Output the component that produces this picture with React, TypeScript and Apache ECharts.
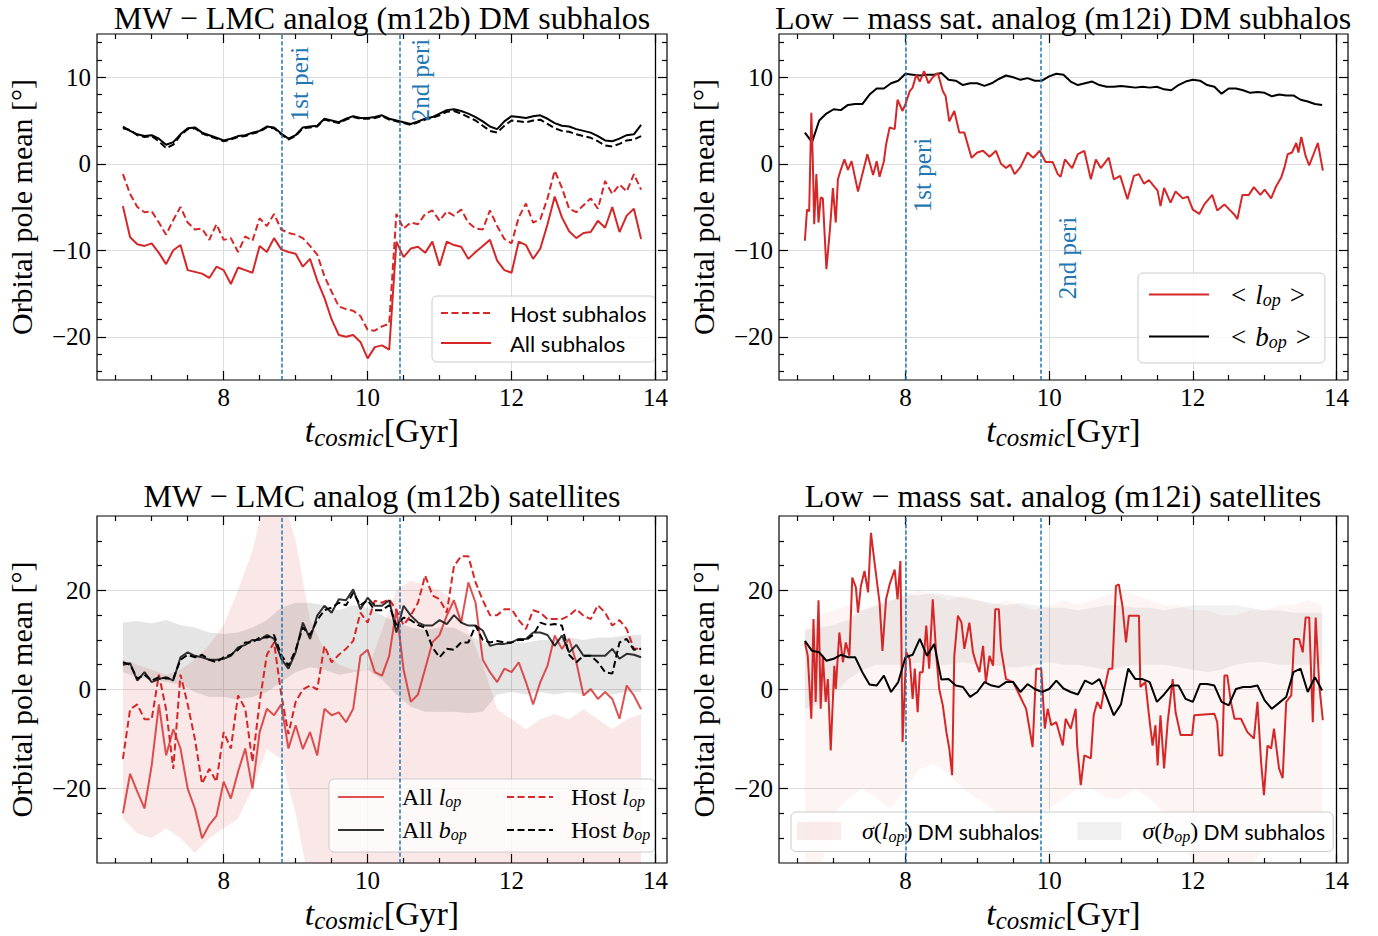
import React, { useEffect, useRef } from 'react';
import * as echarts from 'echarts';

// ---------------- time grids ----------------
const T = [6.6, 6.7, 6.8, 6.9, 7.0, 7.1, 7.2, 7.3, 7.4, 7.5,
  7.6, 7.7, 7.8, 7.9, 8.0, 8.1, 8.2, 8.3, 8.4, 8.5,
  8.6, 8.7, 8.8, 8.9, 9.0, 9.1, 9.2, 9.3, 9.4, 9.5,
  9.6, 9.7, 9.8, 9.9, 10.0, 10.1, 10.2, 10.3, 10.4, 10.5,
  10.6, 10.7, 10.8, 10.9, 11.0, 11.1, 11.2, 11.3, 11.4, 11.5,
  11.6, 11.7, 11.8, 11.9, 12.0, 12.1, 12.2, 12.3, 12.4, 12.5,
  12.6, 12.7, 12.8, 12.9, 13.0, 13.1, 13.2, 13.3, 13.4, 13.5,
  13.6, 13.7, 13.8];
const TB = [6.6, 6.8, 7.0, 7.2, 7.4, 7.6, 7.8, 8.0, 8.2, 8.4,
  8.6, 8.8, 9.0, 9.2, 9.4, 9.6, 9.8, 10.0, 10.2, 10.4,
  10.6, 10.8, 11.0, 11.2, 11.4, 11.6, 11.8, 12.0, 12.2, 12.4,
  12.6, 12.8, 13.0, 13.2, 13.4, 13.6, 13.8];

// ---------------- tick labels ----------------
const X_MAJOR = [8, 10, 12, 14];
const X_MINOR = [6.5, 7, 7.5, 8.5, 9, 9.5, 10.5, 11, 11.5, 12.5, 13, 13.5];
const Y_MAJ_TOP = [-20, -10, 0, 10];
const Y_MIN_TOP = [-24, -22, -18, -16, -14, -12, -8, -6, -4, -2, 2, 4, 6, 8, 12, 14];
const Y_MAJ_BOT = [-20, 0, 20];
const Y_MIN_BOT = [-30, -25, -15, -10, -5, 5, 10, 15, 25, 30];

// pericentre times
const PERI_M12B = [8.81, 10.44];
const PERI_M12I = [8.0, 9.88];

// ---------------- top-left: m12b DM subhalos ----------------
const TL_ALL_B = [4.3, 3.8, 3.4, 3.2, 3.3, 2.9, 2.2, 2.5, 3.4, 4.1,
  4.2, 3.6, 3.3, 3.0, 2.7, 2.9, 3.2, 3.3, 3.6, 3.8,
  4.3, 4.2, 3.5, 2.9, 3.3, 4.2, 4.3, 4.4, 5.2, 5.0,
  4.8, 5.2, 5.5, 5.3, 5.3, 5.4, 5.6, 5.2, 5.0, 4.8,
  4.6, 4.9, 5.2, 5.4, 5.8, 6.2, 6.3, 6.1, 5.8, 5.4,
  4.9, 4.3, 4.0, 4.9, 5.5, 5.4, 5.3, 5.5, 5.6, 5.2,
  4.7, 4.4, 4.3, 4.0, 3.8, 3.6, 3.2, 2.7, 2.6, 2.9,
  3.3, 3.4, 4.5];
const TL_HOST_B = [4.1, 3.9, 3.3, 3.1, 3.2, 2.6, 1.8, 2.2, 3.3, 4.0,
  4.1, 3.5, 3.2, 2.9, 2.6, 2.8, 3.1, 3.2, 3.5, 3.7,
  4.2, 4.1, 3.4, 2.8, 3.2, 4.1, 4.2, 4.3, 5.1, 4.9,
  4.7, 5.1, 5.4, 5.2, 5.2, 5.3, 5.5, 5.1, 4.9, 4.7,
  4.5, 4.8, 5.1, 5.3, 5.6, 6.0, 6.1, 5.8, 5.4, 5.0,
  4.4, 3.8, 3.6, 4.4, 5.0, 4.9, 4.8, 5.0, 5.1, 4.6,
  4.1, 3.8, 3.7, 3.4, 3.2, 3.0, 2.6, 2.1, 2.0, 2.3,
  2.7, 2.8, 3.2];
const TL_HOST_L = [-1.2, -3.5, -5.0, -5.6, -5.5, -6.8, -8.2, -6.5, -5.0, -6.8,
  -7.6, -7.5, -8.8, -7.0, -8.8, -8.6, -10.2, -8.4, -8.9, -6.3,
  -7.2, -5.8, -7.6, -8.0, -8.2, -8.6, -9.5, -10.5, -13.0, -14.8,
  -16.5, -16.8, -17.0, -17.6, -19.2, -19.3, -18.8, -18.5, -5.8, -7.5,
  -6.8, -7.0, -5.8, -5.4, -6.6, -5.5, -6.0, -5.3, -6.8, -7.5,
  -7.6, -5.4, -7.2, -8.7, -9.2, -6.2, -4.6, -6.8, -6.4, -4.0,
  -0.8, -2.8, -5.2, -5.6, -4.8, -4.0, -5.2, -2.0, -3.5, -2.4,
  -3.2, -1.2, -3.0];
const TL_ALL_L = [-4.9, -8.5, -9.3, -9.5, -9.2, -10.3, -11.6, -10.0, -9.4, -12.3,
  -12.5, -12.7, -13.2, -11.9, -12.3, -13.9, -12.0, -12.3, -12.6, -9.5,
  -10.2, -8.6, -9.9, -10.2, -10.4, -11.9, -11.0, -13.5, -15.5, -18.0,
  -19.8, -20.0, -19.8, -20.6, -22.5, -21.2, -21.0, -21.5, -9.0, -10.8,
  -9.8, -9.6, -10.3, -9.0, -11.8, -9.0, -9.4, -9.6, -11.0, -10.2,
  -9.5, -8.8, -11.2, -12.3, -12.6, -9.0, -9.4, -11.0, -9.8, -7.0,
  -3.8, -6.2, -7.8, -8.6, -8.0, -7.9, -6.6, -7.4, -5.0, -7.9,
  -6.0, -5.2, -8.7];

// ---------------- top-right: m12i DM subhalos ----------------
const TR_B = [3.6, 2.5, 5.0, 5.8, 6.3, 6.2, 6.8, 6.9, 6.9, 8.0,
  8.7, 8.7, 9.3, 9.6, 10.4, 10.3, 10.2, 10.3, 10.3, 10.5,
  9.7, 9.6, 9.1, 9.3, 9.3, 9.0, 9.3, 9.8, 10.2, 10.0,
  9.7, 9.9, 9.6, 9.6, 10.1, 10.4, 10.3, 9.5, 9.1, 9.3,
  9.5, 9.1, 8.9, 8.9, 9.0, 8.9, 8.8, 8.9, 8.8, 8.9,
  8.6, 8.5, 9.1, 9.5, 9.7, 9.6, 9.1, 8.9, 8.1, 8.7,
  8.7, 8.5, 8.2, 8.3, 8.2, 7.8, 8.0, 7.9, 7.9, 7.4,
  7.2, 6.9, 6.8];
const TR_L_T = [6.60, 6.63, 6.66, 6.69, 6.71, 6.73, 6.76, 6.79, 6.82, 6.85,
  6.90, 6.95, 6.99, 7.03, 7.06, 7.10, 7.15, 7.20, 7.25, 7.34,
  7.40, 7.47, 7.55, 7.60, 7.64, 7.70, 7.73, 7.78, 7.85, 7.89,
  7.96, 8.00, 8.06, 8.10, 8.15, 8.20, 8.26, 8.32, 8.38, 8.45,
  8.52, 8.56, 8.61, 8.68, 8.75, 8.82, 8.92, 9.00, 9.08, 9.17,
  9.26, 9.33, 9.40, 9.46, 9.52, 9.60, 9.70, 9.78, 9.87, 9.95,
  10.05, 10.12, 10.16, 10.22, 10.32, 10.40, 10.49, 10.58, 10.65, 10.72,
  10.83, 10.90, 10.99, 11.09, 11.18, 11.25, 11.32, 11.39, 11.51, 11.55,
  11.60, 11.69, 11.76, 11.86, 11.93, 12.00, 12.09, 12.16, 12.27, 12.34,
  12.44, 12.51, 12.58, 12.62, 12.69, 12.78, 12.85, 12.94, 13.00, 13.09,
  13.16, 13.23, 13.28, 13.32, 13.38, 13.44, 13.47, 13.51, 13.57, 13.62,
  13.68, 13.74, 13.78, 13.81];
const TR_L = [-8.9, -5.3, -5.5, 5.9, 0.5, -7.0, -1.2, -6.8, -3.9, -4.0,
  -12.2, -7.5, -2.8, -6.8, -1.8, -0.7, 0.5, -0.7, 0.3, -3.2,
  -1.2, 1.1, -1.3, 0.3, -1.5, 0.3, 2.2, 4.2, 4.0, 7.4,
  6.1, 6.9, 8.4, 8.8, 10.3, 9.5, 10.7, 9.3, 10.0, 10.5,
  8.4, 7.8, 4.9, 6.1, 3.6, 3.6, 0.7, 1.3, 1.5, 0.8,
  1.5, 0.0, -0.5, -0.1, -1.2, -0.4, 1.3, 0.7, 1.5, 0.2,
  0.2, -1.2, -1.5, 0.5, -0.5, 1.1, 1.5, -1.8, 0.5, -0.5,
  0.7, -1.8, -1.4, -4.1, -1.4, -1.2, -2.3, -1.9, -3.1, -4.9,
  -2.8, -4.5, -3.2, -4.0, -3.8, -5.3, -5.8, -4.7, -3.6, -5.4,
  -4.7, -5.3, -5.9, -6.4, -3.6, -3.6, -2.7, -3.6, -3.0, -4.0,
  -2.6, -1.6, -0.3, 1.1, 1.3, 2.4, 1.3, 3.1, 0.9, -0.2,
  1.1, 2.4, 0.6, -0.8];

// ---------------- bottom-left: m12b satellites ----------------
const BL_ALL_L = [-25.0, -17.0, -20.6, -24.0, -15.3, -3.0, -13.3, -8.0, -11.9, -20.0,
  -24.0, -30.0, -27.3, -25.5, -18.6, -22.0, -16.6, -11.9, -20.0, -8.6,
  -3.9, -5.2, -3.0, -11.9, -7.2, -12.0, -8.6, -13.3, -3.9, -5.2,
  -4.6, -6.6, -3.9, 6.8, 8.0, 3.5, 2.8, 6.8, 16.2, 4.0,
  -2.5, -1.0, 4.2, 9.5, 11.0, 14.9, 18.0, 13.5, 21.6, 17.5,
  6.0, 3.5, 1.5, 4.2, 3.5, 5.5, 1.5, -3.0, 1.5, 4.8,
  10.9, 8.2, 10.2, 5.5, -1.2, 0.1, -1.9, -0.5, -1.9, -5.9,
  0.8, -1.2, -4.0];
const BL_HOST_L = [-14.0, -4.0, -3.0, -6.0, -6.0, 3.0, -4.0, -16.0, 3.0, -3.0,
  -10.0, -19.0, -16.0, -18.6, -8.6, -11.9, -1.2, -3.9, -14.6, -2.5,
  7.0, 9.5, -1.0, -9.0, -2.5, 0.0, 0.8, 0.0, 8.8, 5.5,
  7.0, 8.2, 9.8, 15.5, 13.5, 17.9, 17.5, 18.2, 16.0, 13.0,
  15.0, 17.5, 23.0, 19.0, 18.2, 15.5, 24.9, 26.9, 26.9, 21.6,
  18.0, 15.0, 15.0, 16.2, 16.2, 14.0, 12.2, 16.0, 15.5, 14.2,
  14.2, 14.2, 14.9, 16.2, 14.9, 14.2, 17.0, 15.5, 12.9, 14.0,
  12.2, 8.2, 8.2];
const BL_ALL_B = [5.0, 5.3, 1.8, 3.5, 1.5, 2.1, 2.5, 1.8, 6.5, 7.5,
  6.8, 6.5, 6.0, 6.0, 6.2, 6.8, 8.5, 9.0, 10.0, 10.0,
  11.0, 10.2, 6.2, 4.2, 7.5, 13.5, 10.2, 14.9, 16.9, 15.5,
  18.2, 18.0, 20.2, 16.2, 18.5, 16.9, 16.9, 18.0, 11.5, 16.9,
  14.9, 13.5, 12.9, 12.9, 14.0, 13.2, 15.0, 13.5, 12.9, 12.9,
  11.9, 8.8, 9.2, 9.2, 9.5, 10.2, 10.2, 11.5, 11.5, 11.0,
  8.8, 10.9, 7.5, 9.0, 6.8, 6.8, 6.8, 6.8, 8.2, 6.2,
  7.2, 7.0, 6.5];
const BL_HOST_B = [5.5, 5.0, 2.2, 3.0, 1.8, 2.5, 2.2, 2.2, 6.0, 7.0,
  6.5, 7.0, 6.0, 5.5, 6.5, 7.0, 8.0, 9.5, 9.5, 10.5,
  10.5, 11.0, 7.0, 4.8, 8.0, 12.5, 11.0, 14.0, 16.0, 16.5,
  17.5, 17.0, 19.5, 17.0, 18.0, 16.0, 16.0, 17.0, 13.0, 14.5,
  14.0, 13.0, 12.5, 8.5, 6.5, 8.2, 8.0, 9.5, 9.5, 12.9,
  10.0, 9.5, 9.8, 9.5, 9.5, 10.0, 10.0, 11.0, 13.5, 13.0,
  13.2, 12.9, 7.0, 5.5, 6.8, 6.8, 5.5, 3.5, 3.2, 9.5,
  10.2, 8.0, 8.2];
const BL_SIG_L_HI = [6, 5, 4, 3, 4, 6, 9, 13, 20, 28,
  40, 40, 30, 14, 8, 5, 4, 4, 12, 20,
  22, 21, 20, 18, 12, 5, -4, -6, -8, -6,
  -5, -6, -4, -6, -8, -6, -5];
const BL_SIG_L_LO = [-26, -29, -30, -28, -30, -33, -30, -28, -26, -20,
  -12, -14, -25, -40, -40, -40, -40, -40, -40, -40,
  -40, -40, -40, -40, -40, -40, -40, -40, -40, -40,
  -40, -40, -40, -40, -40, -40, -40];
const BL_SIG_B_HI = [13.5, 13.8, 13.3, 14.0, 13.0, 12.5, 11.5, 11.2, 11.5, 12.5,
  14.0, 16.5, 17.5, 17.5, 17.0, 16.0, 17.0, 16.5, 15.0, 13.5,
  12.5, 12.0, 12.5, 12.5, 11.0, 9.5, 9.0, 9.5, 9.5, 10.0,
  10.0, 10.5, 10.0, 10.5, 10.5, 11.0, 11.0];
const BL_SIG_B_LO = [3.5, 2.5, 2.0, 1.5, 1.0, -0.5, -1.5, -1.5, -2.0, -1.5,
  -0.5, 1.5, 3.5, 4.5, 4.0, 3.0, 3.5, 4.0, 2.0, -1.0,
  -3.5, -4.5, -4.5, -4.5, -4.8, -4.5, -1.0, -0.5, -1.0, -0.5,
  -1.0, -0.5, -1.0, 0.0, -1.0, -0.5, -0.5];

// ---------------- bottom-right: m12i satellites ----------------
const BR_B = [9.8, 7.8, 7.5, 5.8, 6.2, 7.0, 6.5, 6.5, 3.5, 1.0,
  0.8, 2.8, -0.5, 1.5, 6.5, 7.0, 10.2, 6.8, 9.2, 2.0,
  2.1, 0.8, 0.5, -1.5, -0.5, 1.5, 0.8, 0.5, 1.5, 1.5,
  -0.5, 1.1, 0.1, -0.5, 0.1, 1.8, 0.2, -0.5, -1.0, 1.8,
  1.1, 2.1, -1.5, -5.2, -3.0, 4.2, 2.1, 2.1, 1.5, -2.5,
  -1.0, 0.8, 0.8, -1.9, -2.5, 1.1, 1.1, 0.8, -2.5, -3.2,
  0.1, 0.5, 0.5, 0.8, -2.2, -3.9, -2.7, -1.5, 3.5, 4.2,
  -0.5, 2.5, -0.2];
const BR_L_T = [6.60, 6.64, 6.69, 6.72, 6.75, 6.79, 6.82, 6.85, 6.89, 6.92,
  6.96, 7.01, 7.03, 7.08, 7.13, 7.17, 7.22, 7.26, 7.31, 7.34,
  7.38, 7.43, 7.48, 7.52, 7.57, 7.64, 7.68, 7.73, 7.78, 7.85,
  7.89, 7.93, 7.96, 8.01, 8.06, 8.10, 8.13, 8.17, 8.20, 8.24,
  8.29, 8.33, 8.38, 8.43, 8.47, 8.52, 8.57, 8.61, 8.65, 8.68,
  8.73, 8.78, 8.82, 8.89, 8.94, 8.98, 9.03, 9.08, 9.12, 9.17,
  9.22, 9.25, 9.30, 9.33, 9.40, 9.50, 9.59, 9.68, 9.77, 9.82,
  9.89, 9.94, 9.98, 10.03, 10.10, 10.19, 10.23, 10.30, 10.37, 10.39,
  10.44, 10.49, 10.58, 10.62, 10.67, 10.72, 10.76, 10.83, 10.88, 10.93,
  10.97, 11.02, 11.07, 11.11, 11.25, 11.27, 11.34, 11.39, 11.44, 11.48,
  11.51, 11.55, 11.60, 11.65, 11.72, 11.76, 11.83, 11.99, 12.02, 12.30,
  12.34, 12.37, 12.41, 12.44, 12.48, 12.53, 12.58, 12.67, 12.76, 12.85,
  12.90, 12.95, 12.99, 13.04, 13.09, 13.13, 13.20, 13.25, 13.30, 13.37,
  13.41, 13.48, 13.53, 13.57, 13.62, 13.67, 13.71, 13.76, 13.81];
const BR_L = [9.5, 6.8, -5.9, 14.2, -2.5, 18.0, -3.9, 6.8, -2.5, 2.1,
  -12.3, 4.8, 0.1, 11.5, 5.5, 9.5, 6.8, 22.6, 20.6, 15.5,
  20.9, 23.9, 19.6, 31.6, 25.6, 17.5, 7.8, 18.2, 21.2, 24.2,
  18.2, 25.9, -10.6, 7.5, 6.1, -1.9, 4.2, -4.6, 3.5, 3.5,
  12.9, 4.2, 18.2, 6.8, 0.1, -3.2, -8.6, -11.9, -17.3, 6.8,
  14.9, 13.5, 8.2, 13.5, 7.5, 5.5, 3.5, 8.8, 1.5, 6.8,
  4.8, 16.2, 16.2, 8.2, 2.1, 1.5, -1.2, -3.9, -11.6, 4.2,
  4.2, -7.9, -3.9, -7.2, -6.6, -11.3, -5.9, -7.9, -3.9, -11.3,
  -19.3, -13.3, -13.9, -5.2, -2.5, -3.9, -0.5, 4.2, 4.2, 20.9,
  21.2, 16.9, 9.5, 14.9, 14.9, 0.5, 1.5, -5.2, -11.3, -7.2,
  -15.3, -5.2, -15.9, -6.6, 2.1, -4.6, -9.2, -9.2, -5.2, -4.9,
  -6.6, -13.3, -13.3, 2.8, 2.8, -2.5, -5.9, -5.9, -8.6, -9.9,
  -2.5, -14.6, -21.3, -11.3, -11.9, -7.9, -15.9, -17.9, -2.5, -1.2,
  10.2, 10.2, 7.5, 14.5, 14.5, -6.6, 14.5, 0.8, -6.2];
const BR_SIG_L_HI = [12, 15, 16, 17, 16, 17, 18, 19, 20, 19,
  18, 19, 18, 17, 18, 17, 16, 17, 18, 17,
  18, 19, 20, 19, 18, 17, 17, 16, 16, 15,
  15, 16, 16, 17, 17, 18, 17];
const BR_SIG_L_LO = [-38, -38, -25, -22, -20, -22, -24, -20, -16, -15,
  -17, -20, -22, -24, -26, -28, -26, -24, -22, -20,
  -20, -22, -22, -20, -22, -25, -30, -35, -38, -38,
  -38, -36, -32, -28, -26, -28, -30];
const BR_SIG_B_HI = [12, 12.5, 13, 14, 16, 17, 18, 19, 19, 19.5,
  19, 18.5, 18, 17.5, 17, 17.5, 17, 16.5, 16.5, 16,
  16.5, 17, 17, 16.5, 16.5, 16, 16.5, 17, 17, 17,
  17, 16.5, 16, 16, 15.5, 15.5, 15.5];
const BR_SIG_B_LO = [-4, -3, -1, 2, 4, 5, 5, 5, 5.5, 5,
  5, 5.5, 5, 5, 4.5, 4.5, 5, 5.5, 5, 5,
  4.5, 4, 4.5, 5, 5, 5, 4.5, 4, 3.5, 4,
  5, 5.5, 5.5, 5, 5, 5, 5];

// ---------------- styling ----------------
const RED = '#d62728';
const RED_LIGHT = 'rgba(214,39,40,0.8)';
const DARK = 'rgba(0,0,0,0.8)';
const BLUE = '#1f77b4';
const PINK_BL = 'rgba(214,39,40,0.11)';
const GRAY_BL = 'rgba(0,0,0,0.10)';
const PINK_BR = 'rgba(214,39,40,0.05)';
const GRAY_BR = 'rgba(0,0,0,0.055)';
const SERIF = '"Liberation Serif", "Times New Roman", serif';
const SANS = 'Lato, "Liberation Sans", sans-serif';
const X_MIN = 6.24;
const X_MAX = 14.16;
const DASH = [7, 3.5];

const PANELS = [
  { left: 97, top: 34, width: 570, height: 346, ymin: -25, ymax: 15, yMaj: Y_MAJ_TOP, yMin: Y_MIN_TOP },
  { left: 779, top: 34, width: 569, height: 346, ymin: -25, ymax: 15, yMaj: Y_MAJ_TOP, yMin: Y_MIN_TOP },
  { left: 97, top: 516, width: 570, height: 347, ymin: -35, ymax: 35, yMaj: Y_MAJ_BOT, yMin: Y_MIN_BOT },
  { left: 779, top: 516, width: 569, height: 347, ymin: -35, ymax: 35, yMaj: Y_MAJ_BOT, yMin: Y_MIN_BOT },
];

const fmtNum = (v: number) => (v < 0 ? '\u2212' + Math.abs(v) : String(v));
const TICK_STYLE = { color: '#000', width: 1.2 };
const tick = (len: number, vals: number[]) => ({ show: true, inside: true, length: len, customValues: vals, lineStyle: TICK_STYLE });

function xAxesFor(g: number) {
  const base: any = {
    type: 'value', gridIndex: g, min: X_MIN, max: X_MAX,
    axisLine: { show: false, onZero: false },
    splitLine: { show: false },
    axisLabel: { show: false },
  };
  return [
    {
      ...base, position: 'bottom', axisTick: tick(9, X_MAJOR),
      axisLabel: { show: true, customValues: X_MAJOR, formatter: fmtNum, fontFamily: SERIF, fontSize: 25, color: '#000', margin: 5 },
      splitLine: { show: true, lineStyle: { color: '#dddddd', width: 1 } },
      name: '{it|t}{sub|cosmic}{rm|[Gyr]}', nameLocation: 'middle', nameGap: 30,
      nameTextStyle: {
        rich: {
          it: { fontFamily: SERIF, fontStyle: 'italic', fontSize: 34, lineHeight: 40, color: '#000' },
          sub: { fontFamily: SERIF, fontStyle: 'italic', fontSize: 25, lineHeight: 22, verticalAlign: 'bottom', color: '#000' },
          rm: { fontFamily: SERIF, fontSize: 34, lineHeight: 40, color: '#000' },
        },
      },
    },
    { ...base, position: 'bottom', axisTick: tick(5, X_MINOR) },
    { ...base, position: 'top', axisTick: tick(9, X_MAJOR) },
    { ...base, position: 'top', axisTick: tick(5, X_MINOR) },
  ];
}

function yAxesFor(g: number, p: any) {
  const base: any = {
    type: 'value', gridIndex: g, min: p.ymin, max: p.ymax,
    axisLine: { show: false, onZero: false },
    splitLine: { show: false },
    axisLabel: { show: false },
  };
  return [
    {
      ...base, position: 'left', axisTick: tick(9, p.yMaj),
      axisLabel: { show: true, customValues: p.yMaj, formatter: fmtNum, fontFamily: SERIF, fontSize: 25, color: '#000', margin: 6 },
      splitLine: { show: true, lineStyle: { color: '#dddddd', width: 1 } },
      name: 'Orbital pole mean [°]', nameLocation: 'middle', nameRotate: 90, nameGap: 61,
      nameTextStyle: { fontFamily: SERIF, fontSize: 30, color: '#000' },
    },
    { ...base, position: 'left', axisTick: tick(5, p.yMin) },
    { ...base, position: 'right', axisTick: tick(9, p.yMaj) },
    { ...base, position: 'right', axisTick: tick(5, p.yMin) },
  ];
}

function line(name: string, g: number, xs: number[], ys: number[], color: string, dashed = false, extra: any = {}) {
  return {
    type: 'line', name, xAxisIndex: 4 * g, yAxisIndex: 4 * g,
    data: xs.map((x, i) => [x, ys[i]]),
    symbol: 'none', showSymbol: false, silent: true, z: 2,
    lineStyle: { color, width: 2, type: dashed ? DASH : 'solid' },
    itemStyle: { color },
    emphasis: { disabled: true },
    ...extra,
  };
}

// shaded band between lo and hi, drawn as one polygon through the axis scales
function band(name: string, g: number, xs: number[], lo: number[], hi: number[], color: string) {
  return {
    type: 'custom', name, xAxisIndex: 4 * g, yAxisIndex: 4 * g, z: 1, silent: true,
    itemStyle: { color },
    data: xs.map((x, i) => [x, lo[i], hi[i]]),
    encode: { x: 0, y: [1, 2] },
    renderItem: (params: any, api: any) => {
      if (params.dataIndex !== 0) return null;
      const top = xs.map((x, i) => api.coord([x, hi[i]]));
      const bot = xs.map((x, i) => api.coord([x, lo[i]])).reverse();
      const cs = params.coordSys;
      return {
        type: 'polygon',
        shape: { points: top.concat(bot) },
        style: { fill: color, stroke: 'none' },
        clipPath: { type: 'rect', shape: { x: cs.x, y: cs.y, width: cs.width, height: cs.height } },
      };
    },
  };
}

function vlines(peris: number[]) {
  return {
    symbol: ['none', 'none'], silent: true, label: { show: false }, emphasis: { disabled: true },
    data: [
      ...peris.map((v) => ({ xAxis: v, lineStyle: { color: BLUE, type: [4, 2.2], width: 1.5 } })),
      { xAxis: 14, lineStyle: { color: '#000', type: 'solid', width: 1.3 } },
    ],
  };
}

const LEGEND_TEXT: Record<string, string> = {
  tl_host_l: '{g| }{s|Host subhalos}',
  tl_all_l: '{g| }{s|All subhalos}',
  tr_l: '{g| }{r|<}{sp| }{i|l}{sub|op}{sp| }{r|>}',
  tr_b: '{g| }{r|<}{sp| }{i|b}{sub|op}{sp| }{r|>}',
  bl_all_l: '{g| }{r|All }{i|l}{sub|op}',
  bl_all_b: '{g| }{r|All }{i|b}{sub|op}',
  bl_host_l: '{g| }{r|Host }{i|l}{sub|op}',
  bl_host_b: '{g| }{r|Host }{i|b}{sub|op}',
  br_lband: '{g| }{i|σ}{r|(}{i|l}{sub|op}{r|)}{s| DM subhalos}',
  br_bband: '{g| }{i|σ}{r|(}{i|b}{sub|op}{r|)}{s| DM subhalos}',
};

function richSet(main: number, sub: number, sans: number, lh: number, gap: number) {
  return {
    g: { width: gap, fontSize: 10, lineHeight: lh },
    s: { fontFamily: SANS, fontSize: sans, color: '#000', lineHeight: lh },
    r: { fontFamily: SERIF, fontSize: main, color: '#000', lineHeight: lh },
    i: { fontFamily: SERIF, fontSize: main, fontStyle: 'italic', color: '#000', lineHeight: lh },
    sub: { fontFamily: SERIF, fontSize: sub, fontStyle: 'italic', color: '#000', lineHeight: sub + 2, verticalAlign: 'bottom' },
    sp: { width: 9, fontSize: 10, lineHeight: lh },
  };
}

function legend(extra: any, rich: any) {
  return {
    show: true, selectedMode: false, orient: 'vertical', z: 5,
    formatter: (n: string) => LEGEND_TEXT[n] || n,
    textStyle: { fontFamily: SERIF, fontSize: 22, color: '#000', rich },
    ...extra,
  };
}

const textEl = (text: string, x: number, y: number, size: number, color: string, rotation = 0) => ({
  type: 'text', x, y, rotation, z: 10, silent: true,
  style: {
    text, fill: color, fontSize: size, fontFamily: 'Liberation Serif',
    align: 'center', verticalAlign: 'middle', textAlign: 'center', textVerticalAlign: 'middle',
  },
});

function buildOption() {
  const grid = PANELS.map((p) => ({
    left: p.left, top: p.top, width: p.width, height: p.height,
    show: true, borderColor: '#000', borderWidth: 1.2, backgroundColor: 'transparent',
  }));
  const xAxis: any[] = [];
  const yAxis: any[] = [];
  PANELS.forEach((p, g) => {
    xAxis.push(...xAxesFor(g));
    yAxis.push(...yAxesFor(g, p));
  });

  const series: any[] = [
    // top-left
    line('tl_all_b', 0, T, TL_ALL_B, '#000', false, { markLine: vlines(PERI_M12B) }),
    line('tl_host_b', 0, T, TL_HOST_B, '#000', true),
    line('tl_host_l', 0, T, TL_HOST_L, RED, true),
    line('tl_all_l', 0, T, TL_ALL_L, RED, false),
    // top-right
    line('tr_b', 1, T, TR_B, '#000', false, { markLine: vlines(PERI_M12I) }),
    line('tr_l', 1, TR_L_T, TR_L, RED, false),
    // bottom-left
    band('bl_lband', 2, TB, BL_SIG_L_LO, BL_SIG_L_HI, PINK_BL),
    band('bl_bband', 2, TB, BL_SIG_B_LO, BL_SIG_B_HI, GRAY_BL),
    line('bl_all_l', 2, T, BL_ALL_L, RED_LIGHT, false, { markLine: vlines(PERI_M12B) }),
    line('bl_host_l', 2, T, BL_HOST_L, RED, true),
    line('bl_all_b', 2, T, BL_ALL_B, DARK, false),
    line('bl_host_b', 2, T, BL_HOST_B, '#000', true),
    // bottom-right
    band('br_lband', 3, TB, BR_SIG_L_LO, BR_SIG_L_HI, PINK_BR),
    band('br_bband', 3, TB, BR_SIG_B_LO, BR_SIG_B_HI, GRAY_BR),
    line('br_l', 3, BR_L_T, BR_L, RED, false, { markLine: vlines(PERI_M12I) }),
    line('br_b', 3, T, BR_B, '#000', false),
  ];

  const box = { backgroundColor: 'rgba(255,255,255,0.8)', borderColor: '#cccccc', borderWidth: 1, borderRadius: 5 };
  const hideSymbol = { itemStyle: { opacity: 0 } };
  const legends = [
    legend({ left: 432, top: 296, itemWidth: 50, itemHeight: 14, itemGap: 8, padding: [6, 9, 8, 8], data: ['tl_host_l', 'tl_all_l'], ...box, ...hideSymbol }, richSet(24, 16, 22, 25, 14)),
    legend({ left: 1138, top: 273, itemWidth: 60, itemHeight: 14, itemGap: 14, padding: [8, 14, 12, 10], data: ['tr_l', 'tr_b'], ...box, ...hideSymbol }, richSet(27, 18, 22, 29, 17)),
    legend({ left: 337, top: 785, itemWidth: 46, itemHeight: 14, itemGap: 9, padding: 0, data: ['bl_all_l', 'bl_all_b'], ...hideSymbol }, richSet(24, 16, 22, 24, 13)),
    legend({ left: 506, top: 785, itemWidth: 46, itemHeight: 14, itemGap: 9, padding: 0, data: ['bl_host_l', 'bl_host_b'], ...hideSymbol }, richSet(24, 16, 22, 24, 13)),
    legend({
      left: 791, top: 812, orient: 'horizontal', itemWidth: 44, itemHeight: 18, itemGap: 38, padding: [7, 8, 7, 6], ...box,
      data: [
        { name: 'br_lband', icon: 'rect', itemStyle: { color: 'rgba(214,39,40,0.09)', borderWidth: 0, opacity: 1 } },
        { name: 'br_bband', icon: 'rect', itemStyle: { color: 'rgba(0,0,0,0.06)', borderWidth: 0, opacity: 1 } },
      ],
    }, richSet(24, 16, 21, 27, 16)),
  ];

  const graphic = [
    textEl('MW \u2212 LMC analog (m12b) DM subhalos', 382, 18, 32, '#000'),
    textEl('Low \u2212 mass sat. analog (m12i) DM subhalos', 1063, 18, 32, '#000'),
    textEl('MW \u2212 LMC analog (m12b) satellites', 382, 496, 32, '#000'),
    textEl('Low \u2212 mass sat. analog (m12i) satellites', 1063, 496, 32, '#000'),
    textEl('1st peri', 299, 84, 25, BLUE, Math.PI / 2),
    textEl('2nd peri', 420, 80, 25, BLUE, Math.PI / 2),
    textEl('1st peri', 922, 175, 25, BLUE, Math.PI / 2),
    textEl('2nd peri', 1067, 258, 25, BLUE, Math.PI / 2),
    {
      type: 'rect', z: 3, silent: true,
      shape: { x: 329, y: 779, width: 326, height: 73, r: 5 },
      style: { fill: 'rgba(255,255,255,0.8)', stroke: '#cccccc', lineWidth: 1 },
    },
  ];

  return {
    animation: false,
    backgroundColor: '#fff',
    grid, xAxis, yAxis, series, legend: legends, graphic,
  };
}

export default function App() {
  const ref = useRef<HTMLDivElement>(null);
  useEffect(() => {
    const chart = echarts.init(ref.current as HTMLDivElement, undefined, { renderer: 'svg' });
    chart.setOption(buildOption() as any);
    return () => chart.dispose();
  }, []);
  return (
    <div
      ref={ref}
      style={{ position: 'absolute', left: 0, top: 0, width: 1378, height: 936, background: '#fff' }}
    />
  );
}
